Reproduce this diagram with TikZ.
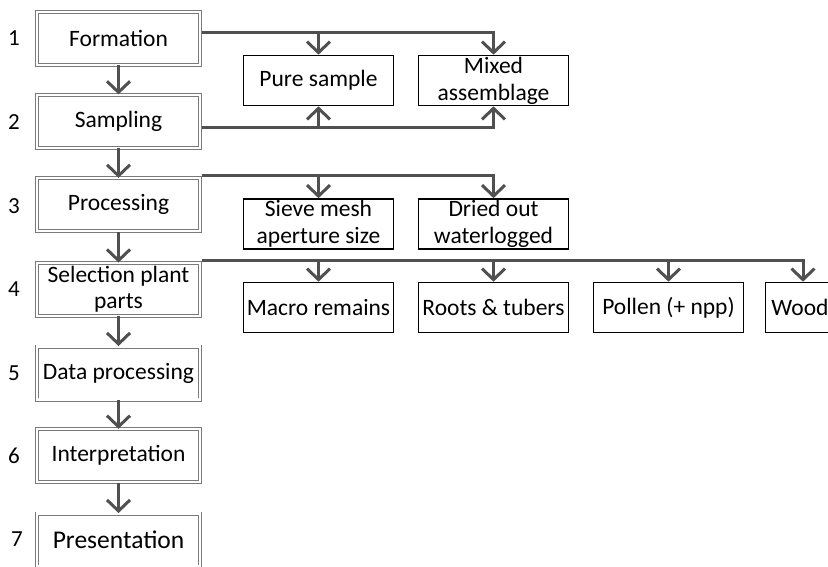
\documentclass[tikz,border=0pt]{standalone}
\usepackage{fontspec}
\setmainfont{Carlito}
\usetikzlibrary{arrows.meta,calc}
\definecolor{conncol}{HTML}{505050}
\definecolor{framecol}{HTML}{7A7A7A}
\begin{document}
\begin{tikzpicture}[x=1pt,y=-1pt,
  stage/.style={draw=framecol, line width=0.9pt, double=white, double distance=2.2pt,
    minimum width=163pt, minimum height=53pt, inner sep=0pt, align=center,
    font=\fontsize{23.5}{26}\selectfont},
  leaf/.style={draw=black, line width=1.6pt, minimum width=150pt, minimum height=50pt,
    inner sep=0pt, align=center, font=\fontsize{23.5}{27}\selectfont},
  num/.style={font=\fontsize{23}{26}\selectfont},
  conn/.style={draw=conncol, line width=3pt,
    -{Straight Barb[length=11pt, width=23pt, line width=3pt]}}]
\useasboundingbox (0,0) rectangle (828,567);
\clip (0,0) rectangle (828,567);

% main sequence of stages
\node[stage] (f1) at (118.5,38.3) {Formation};
\node[stage] (f2) at (118.5,121.3) {Sampling};
\node[stage] (f3) at (118.5,204.8) {Processing};
\node[stage] (f4) at (118.5,289.5) {Selection plant\\parts};
\node[stage] (f5) at (118.5,373) {Data processing};
\node[stage] (f6) at (118.5,455.7) {Interpretation};
\node[stage, font=\fontsize{25.5}{28}\selectfont] (f7) at (118.5,540) {Presentation};

% stage numbers
\node[num] (n1) at (14,38.5) {1};
\node[num] (n2) at (14,122) {2};
\node[num] (n3) at (14,206) {3};
\node[num] (n4) at (14,289) {4};
\node[num] (n5) at (14,373) {5};
\node[num] (n6) at (14,456) {6};
\node[num] (n7) at (17,539.5) {7};

% side boxes
\node[leaf] (pure) at (318.5,80.5) {Pure sample};
\node[leaf] (mixed) at (493.5,80.5) {Mixed\\assemblage};
\node[leaf] (sieve) at (318.5,224) {Sieve mesh\\aperture size};
\node[leaf] (dried) at (493.5,224) {Dried out\\waterlogged};
\node[leaf] (macro) at (318.5,307.5) {Macro remains};
\node[leaf] (roots) at (493.5,307.5) {Roots \& tubers};
\node[leaf] (pollen) at (668.5,307.5) {Pollen (+ npp)};
\node[leaf, minimum width=70pt, align=left, inner xsep=6pt] (wood) at (803,307.5) {Wood\hspace*{6pt}};

% vertical flow between stages
\draw[conn] (f1) -- (f2);
\draw[conn] (f2) -- (f3);
\draw[conn] (f3) -- (f4);
\draw[conn] (f4) -- (f5);
\draw[conn] (f5) -- (f6);
\draw[conn] (f6) -- (f7);

% branch starting points
\coordinate (b1) at (201.5,33);
\coordinate (b2) at (201.5,128);
\coordinate (b3) at (201.5,176);
\coordinate (b4) at (201.5,260);

% formation -> samples
\draw[conn] (b1) -| (mixed.north);
\draw[conn] (b1 -| pure.north) -- (pure.north);
% sampling -> samples
\draw[conn] (b2) -| (mixed.south);
\draw[conn] (b2 -| pure.south) -- (pure.south);
% processing options
\draw[conn] (b3) -| (dried.north);
\draw[conn] (b3 -| sieve.north) -- (sieve.north);
% selected plant parts
\draw[conn] (b4) -| (wood.north);
\draw[conn] (b4 -| macro.north) -- (macro.north);
\draw[conn] (b4 -| roots.north) -- (roots.north);
\draw[conn] (b4 -| pollen.north) -- (pollen.north);
\end{tikzpicture}
\end{document}
